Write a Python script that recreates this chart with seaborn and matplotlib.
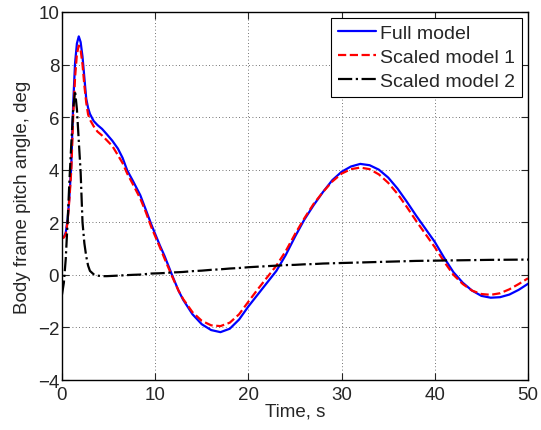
#!/usr/bin/env python3
import pandas as pd
import seaborn as sns
import matplotlib as mpl
import matplotlib.pyplot as plt

sns.set_style("ticks")
mpl.rcParams["font.family"] = ["Liberation Sans", "DejaVu Sans"]
mpl.rcParams["font.size"] = 13.5
mpl.rcParams["figure.dpi"] = 100

# time, s
time = [0, 0.2, 0.4, 0.6, 0.8, 1.0, 1.2, 1.4, 1.6, 1.8, 2.0, 2.2, 2.4, 2.6, 2.8,
        3.0, 3.4, 3.8, 4.3, 4.8, 5.4, 6.0, 6.5, 7.0, 7.6, 8.4, 9.0, 9.6, 10.5,
        11.0, 11.8, 12.5, 13, 14, 15, 16, 17, 18, 19, 20, 21, 22, 23, 24, 25,
        26, 27, 28, 29, 30, 31, 32, 33, 34, 35, 36, 37, 38, 39, 40, 41, 42, 43,
        44, 45, 46, 47, 48, 49, 50]

full_model = [1.40, 1.43, 1.6, 2.1, 3.0, 4.2, 6.5, 8.05, 8.8, 9.07, 8.85, 8.3,
              7.5, 6.7, 6.35, 6.12, 5.85, 5.7, 5.55, 5.35, 5.1, 4.8, 4.45,
              3.97, 3.58, 3.03, 2.47, 1.9, 1.12, 0.72, 0.0, -0.6, -0.95, -1.5,
              -1.88, -2.1, -2.18, -2.05, -1.7, -1.2, -0.75, -0.3, 0.15, 0.75,
              1.45, 2.1, 2.65, 3.15, 3.6, 3.92, 4.12, 4.22, 4.17, 4.0, 3.7,
              3.28, 2.78, 2.25, 1.75, 1.25, 0.65, 0.1, -0.3, -0.6, -0.8,
              -0.87, -0.85, -0.75, -0.57, -0.34]

scaled_1 = [1.40, 1.42, 1.55, 2.0, 2.9, 4.0, 6.0, 7.5, 8.4, 8.72, 8.55, 8.0,
            7.2, 6.55, 6.1, 5.9, 5.65, 5.45, 5.3, 5.12, 4.9, 4.55, 4.25, 3.85,
            3.45, 2.9, 2.38, 1.8, 1.05, 0.62, -0.05, -0.6, -0.92, -1.42,
            -1.75, -1.92, -1.95, -1.82, -1.5, -1.02, -0.55, -0.1, 0.35, 0.9,
            1.55, 2.15, 2.7, 3.15, 3.55, 3.85, 4.02, 4.08, 4.02, 3.82, 3.5,
            3.08, 2.58, 2.05, 1.55, 1.05, 0.5, 0.0, -0.35, -0.6, -0.73,
            -0.76, -0.7, -0.55, -0.35, -0.13]

scaled_2 = [-0.75, -0.3, 0.6, 2.0, 3.6, 5.0, 6.3, 7.0, 6.3, 5.1, 3.9, 2.0,
            1.2, 0.7, 0.35, 0.15, 0.02, -0.03, -0.05, -0.05, -0.04, -0.03,
            -0.02, -0.01, 0.0, 0.01, 0.03, 0.05, 0.06, 0.07, 0.09, 0.1, 0.11,
            0.14, 0.16, 0.19, 0.21, 0.24, 0.26, 0.29, 0.31, 0.33, 0.35, 0.37,
            0.38, 0.4, 0.41, 0.43, 0.44, 0.45, 0.46, 0.47, 0.48, 0.49, 0.5,
            0.51, 0.52, 0.53, 0.535, 0.54, 0.545, 0.55, 0.555, 0.56, 0.565,
            0.57, 0.572, 0.575, 0.578, 0.58]

df = pd.DataFrame({"time": time, "full": full_model,
                   "s1": scaled_1, "s2": scaled_2})

fig = plt.figure(figsize=(5.41, 4.31))
ax = fig.add_axes([0.1146, 0.116, 0.8614, 0.854])

sns.lineplot(ax=ax, data=df, x="time", y="full", color="#0000ff",
             lw=1.6, label="Full model")
sns.lineplot(ax=ax, data=df, x="time", y="s1", color="#ff0000",
             lw=1.6, ls="--", label="Scaled model 1")
sns.lineplot(ax=ax, data=df, x="time", y="s2", color="black",
             lw=1.6, ls="-.", label="Scaled model 2")

ax.set_xlim(0, 50)
ax.set_ylim(-4, 10)
ax.set_xticks(range(0, 51, 10))
ax.set_yticks(range(-4, 11, 2))
ax.set_xlabel("Time, s", labelpad=0)
ax.set_ylabel("Body frame pitch angle, deg", labelpad=5)
ax.grid(True, ls=(0, (1, 3)), color="#444444", lw=0.6)
ax.tick_params(direction="in", top=True, right=True, length=5, width=0.8,
               labelsize=13.5)
ax.tick_params(axis="x", pad=4)
ax.tick_params(axis="y", pad=2)
for s in ax.spines.values():
    s.set_visible(True)
    s.set_linewidth(1.0)
    s.set_color("black")

leg = ax.legend(loc="upper right", fancybox=False, edgecolor="black",
                framealpha=1, borderaxespad=0.3, handlelength=2.0,
                handletextpad=0.2, borderpad=0.35, labelspacing=0.32,
                fontsize=14)
leg.get_frame().set_linewidth(0.8)

plt.savefig("out.png")
